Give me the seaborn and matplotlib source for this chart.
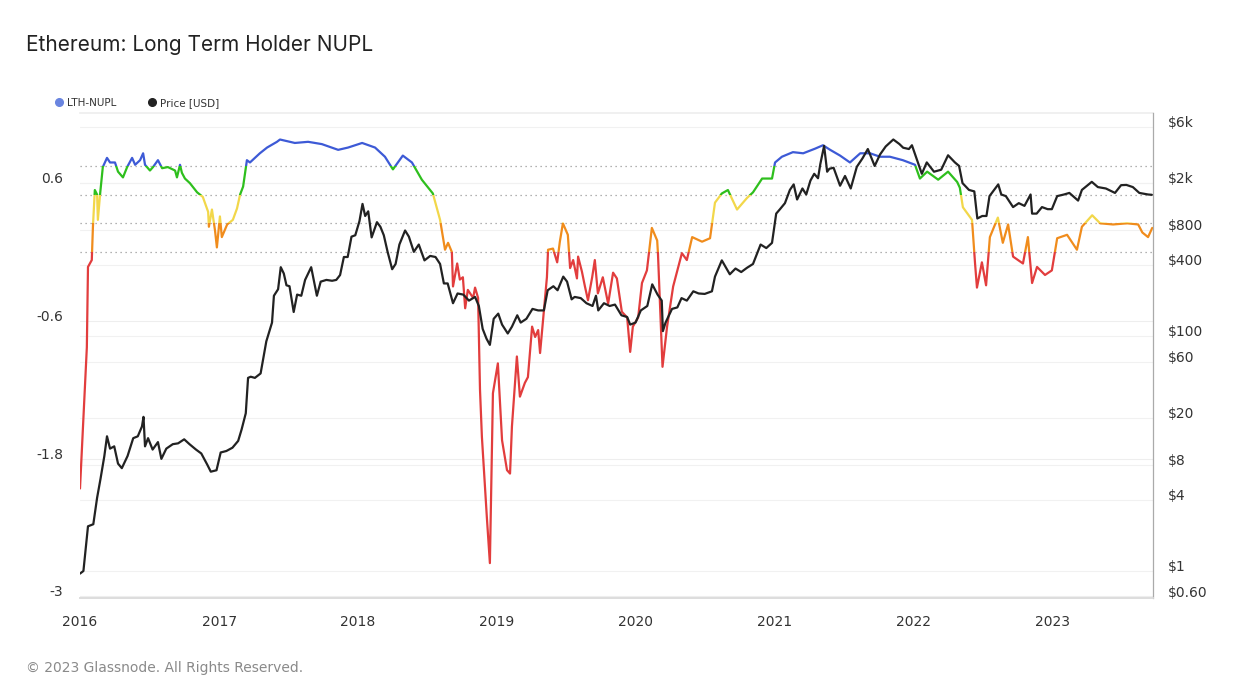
#!/usr/bin/env python3
"""Ethereum: Long Term Holder NUPL chart (values read off the reference)."""
import matplotlib
matplotlib.use("Agg")
from matplotlib import pyplot as plt
from matplotlib.patches import Rectangle
from matplotlib.lines import Line2D
import matplotlib.transforms as mtrans
import matplotlib.ticker as mticker
import matplotlib.dates as matdates
import pandas as pd
import seaborn as sns

# LTH-NUPL (left axis)
nupl_dates = [
    "2016-01-01", "2016-01-09", "2016-01-19", "2016-01-22", "2016-02-01",
    "2016-02-04", "2016-02-09", "2016-02-15", "2016-02-17", "2016-02-23",
    "2016-03-01", "2016-03-12", "2016-03-20", "2016-04-02", "2016-04-10",
    "2016-04-23", "2016-05-04", "2016-05-17", "2016-05-25", "2016-06-07",
    "2016-06-15", "2016-06-20", "2016-07-03", "2016-07-11", "2016-07-24",
    "2016-08-04", "2016-08-19", "2016-09-07", "2016-09-12", "2016-09-20",
    "2016-09-25", "2016-10-03", "2016-10-16", "2016-11-04", "2016-11-19",
    "2016-12-03", "2016-12-05", "2016-12-13", "2016-12-21", "2016-12-26",
    "2017-01-03", "2017-01-08", "2017-01-22", "2017-02-06", "2017-02-17",
    "2017-02-25", "2017-03-05", "2017-03-15", "2017-03-23", "2017-04-18",
    "2017-05-07", "2017-06-02", "2017-06-10", "2017-07-19", "2017-08-23",
    "2017-09-28", "2017-11-10", "2017-12-06", "2018-01-12", "2018-02-15",
    "2018-03-13", "2018-04-03", "2018-04-29", "2018-05-23", "2018-06-18",
    "2018-07-17", "2018-08-05", "2018-08-18", "2018-08-26", "2018-09-05",
    "2018-09-08", "2018-09-19", "2018-09-26", "2018-10-04", "2018-10-10",
    "2018-10-17", "2018-10-31", "2018-11-05", "2018-11-13", "2018-11-18",
    "2018-11-23", "2018-12-06", "2018-12-14", "2018-12-22", "2019-01-04",
    "2019-01-15", "2019-01-28", "2019-02-05", "2019-02-10", "2019-02-23",
    "2019-03-03", "2019-03-16", "2019-03-24", "2019-04-04", "2019-04-12",
    "2019-04-20", "2019-04-25", "2019-05-03", "2019-05-13", "2019-05-16",
    "2019-05-29", "2019-06-09", "2019-06-16", "2019-06-24", "2019-07-07",
    "2019-07-13", "2019-07-21", "2019-07-31", "2019-08-03", "2019-08-13",
    "2019-08-21", "2019-08-29", "2019-09-09", "2019-09-16", "2019-09-24",
    "2019-10-07", "2019-10-21", "2019-11-03", "2019-11-13", "2019-11-26",
    "2019-12-10", "2019-12-18", "2019-12-25", "2020-01-08", "2020-01-18",
    "2020-01-31", "2020-02-13", "2020-02-27", "2020-02-29", "2020-03-12",
    "2020-03-24", "2020-04-09", "2020-05-02", "2020-05-15", "2020-05-29",
    "2020-06-24", "2020-07-15", "2020-07-28", "2020-08-15", "2020-08-31",
    "2020-09-24", "2020-10-20", "2020-11-05", "2020-11-29", "2020-12-25",
    "2021-01-02", "2021-01-20", "2021-02-18", "2021-03-17", "2021-04-17",
    "2021-05-08", "2021-05-27", "2021-06-22", "2021-07-18", "2021-08-14",
    "2021-09-09", "2021-10-05", "2021-10-31", "2021-12-04", "2022-01-05",
    "2022-01-18", "2022-02-06", "2022-03-07", "2022-04-02", "2022-04-26",
    "2022-05-03", "2022-05-11", "2022-06-04", "2022-06-12", "2022-06-17",
    "2022-06-30", "2022-07-11", "2022-07-21", "2022-08-11", "2022-08-24",
    "2022-09-07", "2022-09-20", "2022-10-16", "2022-10-29", "2022-11-09",
    "2022-11-22", "2022-12-13", "2022-12-31", "2023-01-14", "2023-02-09",
    "2023-03-07", "2023-03-20", "2023-04-16", "2023-05-07", "2023-06-10",
    "2023-07-17", "2023-08-15", "2023-08-26", "2023-09-10", "2023-09-21",
]
nupl_values = [
    -2.06, -1.52, -0.83, -0.13, -0.07, 0.22, 0.54, 0.50, 0.28, 0.51,
    0.74, 0.82, 0.78, 0.78, 0.70, 0.65, 0.74, 0.82, 0.76, 0.80,
    0.86, 0.76, 0.71, 0.74, 0.80, 0.73, 0.74, 0.71, 0.65, 0.76,
    0.69, 0.64, 0.60, 0.52, 0.48, 0.35, 0.22, 0.37, 0.19, 0.04,
    0.31, 0.13, 0.24, 0.28, 0.38, 0.50, 0.57, 0.80, 0.78, 0.86,
    0.91, 0.96, 0.98, 0.95, 0.96, 0.94, 0.89, 0.91, 0.95, 0.91,
    0.83, 0.72, 0.84, 0.78, 0.63, 0.51, 0.28, 0.02, 0.08, 0.00,
    -0.30, -0.10, -0.24, -0.22, -0.49, -0.33, -0.40, -0.31, -0.40, -1.20,
    -1.61, -2.31, -2.71, -1.23, -0.97, -1.64, -1.90, -1.93, -1.52, -0.91,
    -1.26, -1.14, -1.09, -0.65, -0.74, -0.68, -0.88, -0.59, -0.22, 0.02,
    0.03, -0.09, 0.09, 0.25, 0.15, -0.14, -0.07, -0.23, -0.04, -0.17,
    -0.30, -0.42, -0.22, -0.07, -0.36, -0.22, -0.45, -0.18, -0.23, -0.52,
    -0.57, -0.87, -0.65, -0.57, -0.27, -0.16, 0.21, 0.10, -0.01, -1.00,
    -0.65, -0.30, -0.01, -0.07, 0.13, 0.09, 0.12, 0.43, 0.51, 0.54,
    0.37, 0.47, 0.52, 0.64, 0.64, 0.78, 0.83, 0.87, 0.86, 0.90,
    0.93, 0.89, 0.84, 0.78, 0.86, 0.86, 0.83, 0.83, 0.80, 0.76,
    0.64, 0.70, 0.63, 0.70, 0.61, 0.56, 0.39, 0.28, -0.10, -0.31,
    -0.09, -0.29, 0.13, 0.30, 0.08, 0.24, -0.04, -0.10, 0.13, -0.27,
    -0.13, -0.20, -0.16, 0.12, 0.15, 0.02, 0.22, 0.32, 0.25, 0.24,
    0.25, 0.24, 0.17, 0.13, 0.21,
]

# ETH price (right axis, log)
price_dates = [
    "2016-01-01", "2016-01-10", "2016-01-22", "2016-02-05", "2016-02-15",
    "2016-02-24", "2016-03-05", "2016-03-12", "2016-03-20", "2016-03-31",
    "2016-04-10", "2016-04-20", "2016-05-05", "2016-05-20", "2016-06-01",
    "2016-06-12", "2016-06-16", "2016-06-20", "2016-06-28", "2016-07-10",
    "2016-07-24", "2016-08-02", "2016-08-15", "2016-09-01", "2016-09-15",
    "2016-10-01", "2016-10-15", "2016-11-01", "2016-11-15", "2016-12-01",
    "2016-12-10", "2016-12-25", "2017-01-05", "2017-01-20", "2017-02-05",
    "2017-02-20", "2017-03-01", "2017-03-12", "2017-03-18", "2017-03-25",
    "2017-04-05", "2017-04-20", "2017-05-05", "2017-05-20", "2017-05-25",
    "2017-06-05", "2017-06-12", "2017-06-20", "2017-06-27", "2017-07-05",
    "2017-07-16", "2017-07-25", "2017-08-05", "2017-08-15", "2017-08-31",
    "2017-09-15", "2017-09-25", "2017-10-10", "2017-10-25", "2017-11-05",
    "2017-11-15", "2017-11-25", "2017-12-05", "2017-12-15", "2017-12-25",
    "2018-01-05", "2018-01-13", "2018-01-20", "2018-01-28", "2018-02-06",
    "2018-02-20", "2018-03-01", "2018-03-10", "2018-03-20", "2018-04-01",
    "2018-04-10", "2018-04-20", "2018-05-05", "2018-05-15", "2018-05-28",
    "2018-06-10", "2018-06-25", "2018-07-10", "2018-07-24", "2018-08-05",
    "2018-08-15", "2018-08-25", "2018-09-08", "2018-09-20", "2018-10-05",
    "2018-10-20", "2018-11-05", "2018-11-15", "2018-11-25", "2018-12-05",
    "2018-12-14", "2018-12-24", "2019-01-05", "2019-01-15", "2019-01-30",
    "2019-02-10", "2019-02-24", "2019-03-05", "2019-03-20", "2019-04-05",
    "2019-04-20", "2019-05-05", "2019-05-15", "2019-05-30", "2019-06-10",
    "2019-06-25", "2019-07-05", "2019-07-17", "2019-07-25", "2019-08-10",
    "2019-08-25", "2019-09-10", "2019-09-19", "2019-09-25", "2019-10-10",
    "2019-10-25", "2019-11-08", "2019-11-25", "2019-12-10", "2019-12-18",
    "2020-01-01", "2020-01-15", "2020-02-01", "2020-02-14", "2020-02-28",
    "2020-03-10", "2020-03-13", "2020-03-20", "2020-04-06", "2020-04-20",
    "2020-05-01", "2020-05-15", "2020-06-01", "2020-06-15", "2020-07-01",
    "2020-07-20", "2020-07-28", "2020-08-15", "2020-09-05", "2020-09-20",
    "2020-10-05", "2020-10-20", "2020-11-05", "2020-11-25", "2020-12-10",
    "2020-12-25", "2021-01-05", "2021-01-15", "2021-01-28", "2021-02-10",
    "2021-02-20", "2021-03-01", "2021-03-15", "2021-03-25", "2021-04-05",
    "2021-04-15", "2021-04-25", "2021-05-01", "2021-05-11", "2021-05-19",
    "2021-05-25", "2021-06-05", "2021-06-22", "2021-07-05", "2021-07-20",
    "2021-08-05", "2021-08-20", "2021-09-03", "2021-09-21", "2021-10-05",
    "2021-10-20", "2021-11-09", "2021-11-25", "2021-12-05", "2021-12-20",
    "2021-12-28", "2022-01-11", "2022-01-23", "2022-02-05", "2022-02-24",
    "2022-03-15", "2022-04-02", "2022-04-20", "2022-05-01", "2022-05-10",
    "2022-05-27", "2022-06-10", "2022-06-18", "2022-07-01", "2022-07-12",
    "2022-07-20", "2022-08-12", "2022-08-20", "2022-09-01", "2022-09-20",
    "2022-10-05", "2022-10-20", "2022-11-05", "2022-11-09", "2022-11-21",
    "2022-12-05", "2022-12-20", "2022-12-31", "2023-01-14", "2023-02-01",
    "2023-02-15", "2023-03-10", "2023-03-20", "2023-04-15", "2023-05-01",
    "2023-05-22", "2023-06-15", "2023-07-01", "2023-07-15", "2023-08-01",
    "2023-08-18", "2023-09-10", "2023-09-20",
]
price_usd = [
    0.95, 1.0, 2.4, 2.5, 4.2, 6.1, 9.5, 14, 11, 11.5,
    8.2, 7.5, 9.5, 13.5, 14, 17, 20.5, 11.5, 13.5, 10.8,
    12.5, 9, 11, 12, 12.2, 13.2, 12, 10.8, 10, 8,
    7.0, 7.2, 10.2, 10.5, 11.2, 12.8, 16, 22, 44, 45,
    44, 48, 90, 130, 220, 250, 385, 340, 270, 265,
    160, 225, 220, 300, 385, 220, 290, 300, 295, 300,
    330, 470, 470, 700, 720, 950, 1330, 1050, 1150, 690,
    930, 850, 720, 520, 370, 410, 600, 790, 700, 520,
    600, 440, 480, 470, 410, 280, 280, 190, 230, 225,
    200, 215, 180, 115, 95, 84, 140, 155, 125, 105,
    120, 150, 130, 140, 170, 165, 165, 245, 265, 245,
    320, 290, 205, 215, 210, 190, 180, 220, 165, 190,
    180, 185, 150, 145, 125, 130, 165, 180, 275, 225,
    200, 110, 130, 170, 175, 210, 200, 240, 230, 228,
    240, 320, 440, 335, 375, 350, 380, 410, 600, 560,
    620, 1100, 1200, 1350, 1750, 1950, 1450, 1800, 1600, 2100,
    2400, 2200, 2900, 4150, 2500, 2650, 2700, 1900, 2300, 1800,
    2750, 3250, 3900, 2800, 3500, 4100, 4700, 4300, 4000, 3900,
    4200, 3100, 2400, 3000, 2500, 2600, 3450, 3000, 2800, 2000,
    1750, 1700, 1000, 1050, 1050, 1550, 1950, 1600, 1550, 1250,
    1350, 1280, 1600, 1100, 1100, 1250, 1200, 1200, 1550, 1600,
    1650, 1420, 1750, 2050, 1850, 1800, 1650, 1920, 1930, 1850,
    1650, 1600, 1590,
]

# NUPL zones: red < 0 <= orange < 0.25 <= yellow < 0.5 <= green < 0.75 <= blue
zone_edges = [-10, 0, 0.25, 0.5, 0.75, 10]
zone_colors = ["#e23d3d", "#f08c1c", "#f2d74a", "#2ebf1d", "#3d5ad6"]

nupl_ticks = [-3, -1.8, -0.6, 0.6]
nupl_labels = ["-3", "-1.8", "-0.6", "0.6"]
price_ticks = [0.6, 1, 4, 8, 20, 60, 100, 400, 800, 2000, 6000]
price_labels = ["$0.60", "$1", "$4", "$8", "$20", "$60", "$100",
                "$400", "$800", "$2k", "$6k"]

sns.set_theme(style="white")
plt.rcParams["font.family"] = ["DejaVu Sans"]

nupl = pd.DataFrame({"date": pd.to_datetime(nupl_dates), "nupl": nupl_values})
price = pd.DataFrame({"date": pd.to_datetime(price_dates), "price": price_usd})

fig = plt.figure(figsize=(12.42, 6.99), dpi=100)
ax = fig.add_axes([80 / 1242, 1 - 598 / 699, 1073 / 1242, 485 / 699])
ax2 = ax.twinx()

ax.set_xlim(pd.Timestamp("2016-01-01"), pd.Timestamp("2023-09-23"))
ax.set_ylim(-3.014, 1.211)
ax2.set_yscale("log")
ax2.set_ylim(0.589, 7900)

# light grid for both axes, drawn on the lower axes
band_tf = mtrans.blended_transform_factory(ax.transAxes, ax.transData)
right_tf = mtrans.blended_transform_factory(ax.transAxes, ax2.transData)
for t in nupl_ticks:
    ax.plot([0, 1], [t, t], transform=band_tf, color="#eeeeee", lw=0.8,
            zorder=0)
for t in price_ticks:
    ax.plot([0, 1], [t, t], transform=right_tf, color="#f1f1f1", lw=0.8,
            zorder=0)
for edge in zone_edges[1:-1]:
    ax.plot([0, 1], [edge, edge], transform=band_tf, color="#999999",
            lw=0.9, ls=(0, (1, 3)), zorder=1)

# one copy of the NUPL line per colour zone, clipped to that zone
for lo, hi, col in zip(zone_edges[:-1], zone_edges[1:], zone_colors):
    sns.lineplot(data=nupl, x="date", y="nupl", ax=ax, color=col,
                 linewidth=1.6, zorder=3)
    clip = Rectangle((0, lo), 1, hi - lo, transform=band_tf)
    ax.lines[-1].set_clip_path(clip)

sns.lineplot(data=price, x="date", y="price", ax=ax2, color="#222222",
             linewidth=1.6, zorder=3)

ax.set_xlabel("")
ax.set_ylabel("")
ax2.set_ylabel("")

ax.set_yticks(nupl_ticks, nupl_labels)
ax2.yaxis.set_major_locator(mticker.FixedLocator(price_ticks))
ax2.yaxis.set_major_formatter(mticker.FixedFormatter(price_labels))
ax2.yaxis.set_minor_locator(mticker.NullLocator())

ax.xaxis.set_major_locator(matdates.YearLocator())
ax.xaxis.set_major_formatter(matdates.DateFormatter("%Y"))

ax.tick_params(axis="y", length=0, pad=12, labelsize=10, labelcolor="#333333")
ax2.tick_params(axis="y", length=0, pad=11, labelsize=10,
                labelcolor="#333333")
ax.tick_params(axis="x", length=4, width=0.8, color="#dddddd", pad=8,
               labelsize=10, labelcolor="#333333")
for tick in ax.yaxis.get_major_ticks():
    tick.label1.set_verticalalignment("baseline")
for tick in ax2.yaxis.get_major_ticks():
    tick.label2.set_verticalalignment("baseline")

for a in (ax, ax2):
    for side in ("top", "left"):
        a.spines[side].set_visible(False)
    a.spines["bottom"].set_color("#dddddd")
    a.spines["right"].set_visible(False)
ax2.spines["right"].set_visible(True)
ax2.spines["right"].set_color("#aaaaaa")
ax2.spines["right"].set_linewidth(0.9)
ax.spines["top"].set_visible(True)
ax.spines["top"].set_color("#eeeeee")

handles = [
    Line2D([], [], marker="o", ls="", markersize=5.5,
           markerfacecolor="#6a85e0", markeredgecolor="#6a85e0"),
    Line2D([], [], marker="o", ls="", markersize=5.5,
           markerfacecolor="#222222", markeredgecolor="#222222"),
]
fig.legend(handles, ["LTH-NUPL", "Price [USD]"], loc="center left",
           bbox_to_anchor=(44 / 1242, 1 - 103 / 699), ncol=2, frameon=False,
           fontsize=7.5, handletextpad=0.3, columnspacing=2.9,
           handlelength=1.0, labelcolor="#333333")

fig.text(26 / 1242, 1 - 45 / 699, "Ethereum: Long Term Holder NUPL",
         fontsize=15, family=["Inter", "DejaVu Sans"], color="#222222",
         va="center", ha="left")
fig.text(26 / 1242, 1 - 668 / 699, "\u00a9 2023 Glassnode. All Rights Reserved.",
         fontsize=10, color="#8a8a8a", va="center", ha="left")

fig.savefig("out.png", dpi=100, facecolor="white")
